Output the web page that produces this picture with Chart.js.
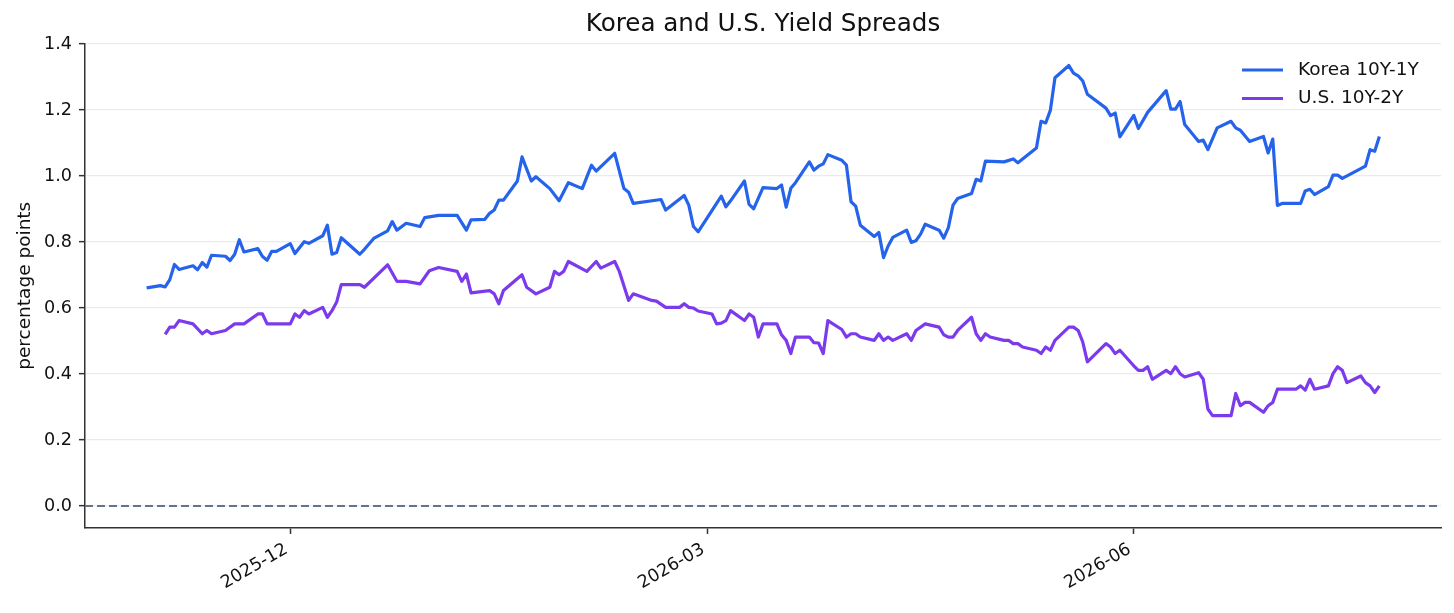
<!DOCTYPE html>
<html>
<head>
<meta charset="utf-8">
<script src="https://cdn.jsdelivr.net/npm/chart.js@4.4.1/dist/chart.umd.min.js"></script>
<style>
  html, body { margin: 0; padding: 0; background: #fff; }
  #wrap { width: 1454px; height: 613px; }
</style>
</head>
<body>
<div id="wrap"><canvas id="myChart" width="1454" height="613"></canvas></div>
<script>
// series readings (percentage points)
const koreaDates = [
    '2025-10-31','2025-11-03','2025-11-04','2025-11-05','2025-11-06','2025-11-07','2025-11-10','2025-11-11','2025-11-12','2025-11-13','2025-11-14','2025-11-17','2025-11-18','2025-11-19','2025-11-20','2025-11-21','2025-11-24','2025-11-25','2025-11-26','2025-11-27','2025-11-28',
    '2025-12-01','2025-12-02','2025-12-04','2025-12-05','2025-12-08','2025-12-09','2025-12-10','2025-12-11','2025-12-12','2025-12-16','2025-12-17','2025-12-19','2025-12-22','2025-12-23','2025-12-24','2025-12-26','2025-12-29','2025-12-30',
    '2026-01-02','2026-01-06','2026-01-08','2026-01-09','2026-01-12','2026-01-13','2026-01-14','2026-01-15','2026-01-16','2026-01-19','2026-01-20','2026-01-22','2026-01-23','2026-01-26','2026-01-28','2026-01-30',
    '2026-02-02','2026-02-04','2026-02-05','2026-02-09','2026-02-11','2026-02-12','2026-02-13','2026-02-19','2026-02-20','2026-02-24','2026-02-25','2026-02-26','2026-02-27',
    '2026-03-04','2026-03-05','2026-03-06','2026-03-09','2026-03-10','2026-03-11','2026-03-13','2026-03-16','2026-03-17','2026-03-18','2026-03-19','2026-03-20','2026-03-23','2026-03-24','2026-03-25','2026-03-26','2026-03-27','2026-03-30','2026-03-31',
    '2026-04-01','2026-04-02','2026-04-03','2026-04-06','2026-04-07','2026-04-08','2026-04-09','2026-04-10','2026-04-13','2026-04-14','2026-04-15','2026-04-16','2026-04-17','2026-04-20','2026-04-21','2026-04-22','2026-04-23','2026-04-24','2026-04-27','2026-04-28','2026-04-29','2026-04-30',
    '2026-05-04','2026-05-06','2026-05-07','2026-05-11','2026-05-12','2026-05-13','2026-05-14','2026-05-15','2026-05-18','2026-05-19','2026-05-20','2026-05-21','2026-05-22','2026-05-26','2026-05-27','2026-05-28','2026-05-29',
    '2026-06-01','2026-06-02','2026-06-04','2026-06-08','2026-06-09','2026-06-10','2026-06-11','2026-06-12','2026-06-15','2026-06-16','2026-06-17','2026-06-19','2026-06-22','2026-06-23','2026-06-24','2026-06-26','2026-06-29','2026-06-30',
    '2026-07-01','2026-07-02','2026-07-03','2026-07-07','2026-07-08','2026-07-09','2026-07-10','2026-07-13','2026-07-14','2026-07-15','2026-07-16','2026-07-21','2026-07-22','2026-07-23','2026-07-24'
];
const koreaValues = [
    0.661,0.668,0.664,0.686,0.732,0.717,0.728,0.716,0.738,0.724,0.760,0.757,0.744,0.763,0.807,0.770,0.780,0.756,0.745,0.772,0.772,
    0.795,0.765,0.801,0.796,0.819,0.851,0.763,0.768,0.813,0.763,0.778,0.811,0.834,0.862,0.836,0.857,0.847,0.874,
    0.881,0.881,0.836,0.867,0.869,0.887,0.897,0.927,0.927,0.985,1.058,0.985,0.998,0.962,0.925,0.980,
    0.962,1.033,1.015,1.069,0.962,0.951,0.917,0.929,0.897,0.941,0.911,0.847,0.831,
    0.939,0.907,0.925,0.985,0.914,0.901,0.965,0.962,0.973,0.906,0.963,0.980,1.043,1.018,1.030,1.037,1.065,1.048,1.033,
    0.922,0.909,0.851,0.817,0.829,0.753,0.788,0.814,0.836,0.799,0.804,0.824,0.854,0.836,0.812,0.844,0.912,0.932,0.947,0.990,0.985,1.045,
    1.043,1.052,1.040,1.085,1.166,1.161,1.199,1.298,1.335,1.312,1.304,1.288,1.248,1.206,1.183,1.191,1.119,
    1.184,1.144,1.193,1.259,1.203,1.203,1.226,1.156,1.105,1.109,1.080,1.146,1.166,1.146,1.139,1.105,1.120,1.070,
    1.112,0.911,0.917,0.917,0.955,0.960,0.944,0.968,1.003,1.003,0.993,1.030,1.080,1.075,1.120
];

const usDates = [
    '2025-11-04','2025-11-05','2025-11-06','2025-11-07','2025-11-10','2025-11-12','2025-11-13','2025-11-14','2025-11-17','2025-11-19','2025-11-21','2025-11-24','2025-11-25','2025-11-26',
    '2025-12-01','2025-12-02','2025-12-03','2025-12-04','2025-12-05','2025-12-08','2025-12-09','2025-12-10','2025-12-11','2025-12-12','2025-12-15','2025-12-16','2025-12-17','2025-12-22','2025-12-24','2025-12-26','2025-12-29','2025-12-31',
    '2026-01-02','2026-01-06','2026-01-07','2026-01-08','2026-01-09','2026-01-13','2026-01-14','2026-01-15','2026-01-16','2026-01-20','2026-01-21','2026-01-23','2026-01-26','2026-01-27','2026-01-28','2026-01-29','2026-01-30',
    '2026-02-03','2026-02-05','2026-02-06','2026-02-09','2026-02-10','2026-02-12','2026-02-13','2026-02-17','2026-02-18','2026-02-20','2026-02-23','2026-02-24','2026-02-25','2026-02-26','2026-02-27',
    '2026-03-02','2026-03-03','2026-03-04','2026-03-05','2026-03-06','2026-03-09','2026-03-10','2026-03-11','2026-03-12','2026-03-13','2026-03-16','2026-03-17','2026-03-18','2026-03-19','2026-03-20','2026-03-23','2026-03-24','2026-03-25','2026-03-26','2026-03-27','2026-03-30','2026-03-31',
    '2026-04-01','2026-04-02','2026-04-03','2026-04-06','2026-04-07','2026-04-08','2026-04-09','2026-04-10','2026-04-13','2026-04-14','2026-04-15','2026-04-17','2026-04-20','2026-04-21','2026-04-22','2026-04-23','2026-04-24','2026-04-27','2026-04-28','2026-04-29','2026-04-30',
    '2026-05-01','2026-05-04','2026-05-05','2026-05-06','2026-05-07','2026-05-08','2026-05-11','2026-05-12','2026-05-13','2026-05-14','2026-05-15','2026-05-18','2026-05-19','2026-05-20','2026-05-21','2026-05-22','2026-05-26','2026-05-27','2026-05-28','2026-05-29',
    '2026-06-01','2026-06-02','2026-06-03','2026-06-04','2026-06-05','2026-06-08','2026-06-09','2026-06-10','2026-06-11','2026-06-12','2026-06-15','2026-06-16','2026-06-17','2026-06-18','2026-06-22','2026-06-23','2026-06-24','2026-06-25','2026-06-26','2026-06-29','2026-06-30',
    '2026-07-01','2026-07-02','2026-07-06','2026-07-07','2026-07-08','2026-07-09','2026-07-10','2026-07-13','2026-07-14','2026-07-15','2026-07-16','2026-07-17','2026-07-20','2026-07-21','2026-07-22','2026-07-23','2026-07-24'
];
const usValues = [
    0.520,0.542,0.542,0.562,0.552,0.522,0.532,0.522,0.532,0.552,0.552,0.582,0.582,0.552,
    0.552,0.582,0.572,0.592,0.582,0.602,0.572,0.592,0.618,0.671,0.671,0.671,0.663,0.731,0.681,0.681,0.673,0.713,
    0.723,0.711,0.681,0.703,0.646,0.653,0.643,0.613,0.653,0.701,0.663,0.643,0.663,0.711,0.701,0.711,0.741,
    0.711,0.741,0.721,0.741,0.711,0.623,0.643,0.623,0.621,0.602,0.602,0.613,0.602,0.600,0.591,
    0.582,0.552,0.554,0.562,0.592,0.562,0.582,0.572,0.512,0.552,0.552,0.519,0.502,0.462,0.512,0.512,0.495,0.494,0.462,0.562,0.535,0.512,
    0.522,0.522,0.512,0.502,0.522,0.502,0.512,0.502,0.522,0.502,0.532,0.552,0.542,0.519,0.512,0.512,0.532,0.572,0.522,0.502,0.522,
    0.512,0.502,0.502,0.492,0.492,0.482,0.472,0.462,0.482,0.472,0.502,0.542,0.542,0.532,0.497,0.437,0.492,0.482,0.462,0.472,
    0.425,0.411,0.411,0.422,0.384,0.411,0.401,0.422,0.401,0.391,0.404,0.384,0.294,0.274,0.274,0.341,0.304,0.314,0.314,0.284,0.304,
    0.314,0.354,0.354,0.364,0.351,0.384,0.354,0.364,0.401,0.422,0.411,0.374,0.394,0.374,0.364,0.344,0.364
];

const xTickDates = ['2025-12-01', '2026-03-01', '2026-06-01'];
const yTicks = [0.0, 0.2, 0.4, 0.6, 0.8, 1.0, 1.2, 1.4];

const seriesLabels = ['Korea 10Y-1Y', 'U.S. 10Y-2Y'];
const seriesColors = ['#2563eb', '#7c3aed'];

// dias desde 1970-01-01
function toDay(s) {
    return Date.UTC(+s.slice(0, 4), +s.slice(5, 7) - 1, +s.slice(8, 10)) / 864e5;
}
function fmtMonth(day) {
    const d = new Date(day * 864e5);
    return d.getUTCFullYear() + '-' + String(d.getUTCMonth() + 1).padStart(2, '0');
}

const koreaPts = koreaDates.map((d, i) => ({ x: toDay(d), y: koreaValues[i] }));
const usPts = usDates.map((d, i) => ({ x: toDay(d), y: usValues[i] }));

// margens de 5% como no matplotlib
const allX = koreaPts.concat(usPts).map(p => p.x);
const xLo = Math.min(...allX), xHi = Math.max(...allX);
const xPad = (xHi - xLo) * 0.05;
const yLo = 0, yHi = Math.max(...koreaValues, ...usValues);
const yPad = (yHi - yLo) * 0.05;

const txt = '#111111';
const spine = '#333333';

Chart.defaults.font.family = "'DejaVu Sans', sans-serif";
Chart.defaults.color = txt;

// linha tracejada no zero
const zeroLine = {
    id: 'zeroLine',
    beforeDatasetsDraw(chart) {
        const { ctx, chartArea, scales } = chart;
        const y = scales.y.getPixelForValue(0);
        ctx.save();
        ctx.strokeStyle = '#64748b';
        ctx.lineWidth = 1.8;
        ctx.setLineDash([8, 4]);
        ctx.beginPath();
        ctx.moveTo(chartArea.left, y);
        ctx.lineTo(chartArea.right, y);
        ctx.stroke();
        ctx.restore();
    }
};

// legenda dentro da area do grafico (canto superior direito)
const innerLegend = {
    id: 'innerLegend',
    afterDraw(chart) {
        const { ctx, chartArea } = chart;
        ctx.save();
        chart.data.datasets.forEach((ds, i) => {
            const y = chartArea.top + 26.5 + i * 28.5;
            const x0 = chartArea.right - 199;
            ctx.strokeStyle = ds.borderColor;
            ctx.lineWidth = 3.2;
            ctx.beginPath();
            ctx.moveTo(x0, y);
            ctx.lineTo(x0 + 41, y);
            ctx.stroke();
            ctx.fillStyle = txt;
            ctx.font = "18.5px 'DejaVu Sans'";
            ctx.textBaseline = 'middle';
            ctx.textAlign = 'left';
            ctx.fillText(ds.label, x0 + 56, y);
        });
        ctx.restore();
    }
};

new Chart(document.getElementById('myChart'), {
    type: 'line',
    data: {
        datasets: [
            {
                label: seriesLabels[0],
                data: koreaPts,
                borderColor: seriesColors[0],
                borderWidth: 3.2,
                pointRadius: 0,
                tension: 0,
                borderJoinStyle: 'round',
                fill: false
            },
            {
                label: seriesLabels[1],
                data: usPts,
                borderColor: seriesColors[1],
                borderWidth: 3.2,
                pointRadius: 0,
                tension: 0,
                borderJoinStyle: 'round',
                fill: false
            }
        ]
    },
    options: {
        responsive: false,
        animation: false,
        devicePixelRatio: 1,
        layout: { padding: { left: 0, right: 13, top: 0, bottom: 0 } },
        plugins: {
            legend: { display: false },
            tooltip: { enabled: false },
            title: {
                display: true,
                text: 'Korea and U.S. Yield Spreads',
                fullSize: false,
                color: txt,
                font: { size: 24.6, weight: 'normal', lineHeight: 1.2 },
                padding: { top: 9.6, bottom: 4.4 }
            }
        },
        scales: {
            x: {
                type: 'linear',
                min: xLo - xPad,
                max: xHi + xPad,
                afterBuildTicks(axis) {
                    axis.ticks = xTickDates.map(d => ({ value: toDay(d) }));
                },
                afterFit(axis) { axis.height = 85; },
                ticks: {
                    callback: v => fmtMonth(v),
                    minRotation: 30,
                    maxRotation: 30,
                    autoSkip: false,
                    padding: 5,
                    labelOffset: -4,
                    color: txt,
                    font: { size: 17.6 }
                },
                grid: {
                    drawOnChartArea: false,
                    drawTicks: true,
                    tickLength: 6,
                    tickColor: spine,
                    tickWidth: 1.5
                },
                border: { display: true, color: spine, width: 1.5 }
            },
            y: {
                min: yLo - yPad,
                max: yHi + yPad,
                afterBuildTicks(axis) {
                    axis.ticks = yTicks.map(v => ({ value: v }));
                },
                afterFit(axis) { axis.width = 85; },
                ticks: {
                    callback: v => v.toFixed(1),
                    padding: 7,
                    color: txt,
                    font: { size: 17.6 }
                },
                title: {
                    display: true,
                    text: 'percentage points',
                    color: txt,
                    font: { size: 18.5 },
                    padding: { top: 14.5, bottom: 0 }
                },
                grid: {
                    color: '#ebebeb',
                    lineWidth: 1.3,
                    drawTicks: true,
                    tickLength: 6,
                    tickColor: spine,
                    tickWidth: 1.5
                },
                border: { display: true, color: spine, width: 1.5 }
            }
        }
    },
    plugins: [zeroLine, innerLegend]
});
</script>
</body>
</html>
